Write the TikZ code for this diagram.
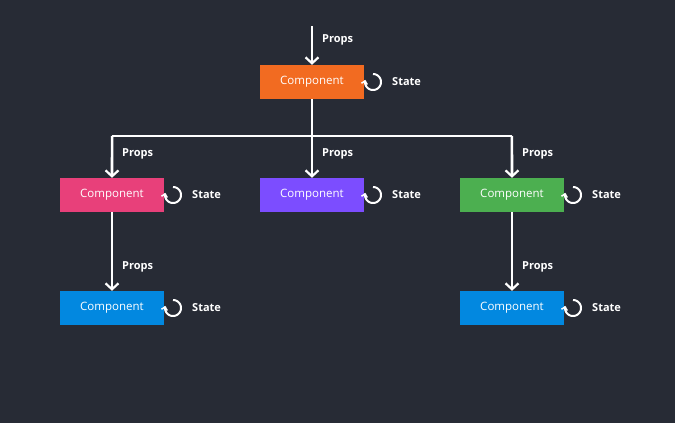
\documentclass[tikz,border=0pt]{standalone}
\usepackage{fontspec}
\setmainfont{Open Sans}
\usetikzlibrary{arrows.meta}
\definecolor{bg}{HTML}{272B35}
\definecolor{cor}{HTML}{F26B21}
\definecolor{cpk}{HTML}{E8407A}
\definecolor{cpu}{HTML}{7C4DFF}
\definecolor{cgr}{HTML}{4CAF50}
\definecolor{cbl}{HTML}{0288E0}
\begin{document}
\begin{tikzpicture}[x=1pt,y=-1pt,
 comp/.style={minimum width=104pt,minimum height=34pt,inner sep=0,text=white,font=\fontsize{11.5}{13}\selectfont},
 lbl/.style={text=white,font=\bfseries\fontsize{11}{12}\selectfont,anchor=west,inner sep=0},
 flow/.style={white,line width=2.6pt,-{Straight Barb[length=6pt,width=13pt,line width=2.2pt]}},
 wire/.style={white,line width=2.6pt}]
\fill[bg] (0,0) rectangle (675,423);
\useasboundingbox (0,0) rectangle (675,423);
\newcommand{\stateicon}[3]{%
 \draw[white,line width=2pt,-{Straight Barb[length=3pt,width=6pt,line width=1.5pt]}] plot[domain=90:-195,samples=40,smooth] ({#1+8*cos(\x)},{#2-8*sin(\x)});
 \node[lbl] (#3) at (#1+19,#2) {State};}
\node[comp,fill=cor] (top) at (312,82) {Component};
\node[comp,fill=cpk] (a) at (112,195) {Component};
\node[comp,fill=cpu] (b) at (312,195) {Component};
\node[comp,fill=cgr] (c) at (512,195) {Component};
\node[comp,fill=cbl] (d) at (112,308) {Component};
\node[comp,fill=cbl] (e) at (512,308) {Component};
\coordinate (in) at (312,26);
\coordinate (j) at (312,136);
\coordinate (jl) at (112,136);
\coordinate (jr) at (512,136);
\draw[flow] (in) -- (top.north);
\draw[wire] (top.south) -- (j);
\draw[wire] (jl) -- (jr);
\draw[flow] ([xshift=0.1pt]jl) -- (a.north);
\draw[flow] (j) -- (b.north);
\draw[flow] ([xshift=-0.1pt]jr) -- (c.north);
\draw[flow] (a.south) -- (d.north);
\draw[flow] (c.south) -- (e.north);
\node[lbl] (p0) at (322,40) {Props};
\node[lbl] (p1) at (122,154) {Props};
\node[lbl] (p2) at (322,154) {Props};
\node[lbl] (p3) at (522,154) {Props};
\node[lbl] (p4) at (122,267) {Props};
\node[lbl] (p5) at (522,267) {Props};
\stateicon{373}{82}{s0}
\stateicon{173}{195}{s1}
\stateicon{373}{195}{s2}
\stateicon{573}{195}{s3}
\stateicon{173}{308}{s4}
\stateicon{573}{308}{s5}
\end{tikzpicture}
\end{document}
